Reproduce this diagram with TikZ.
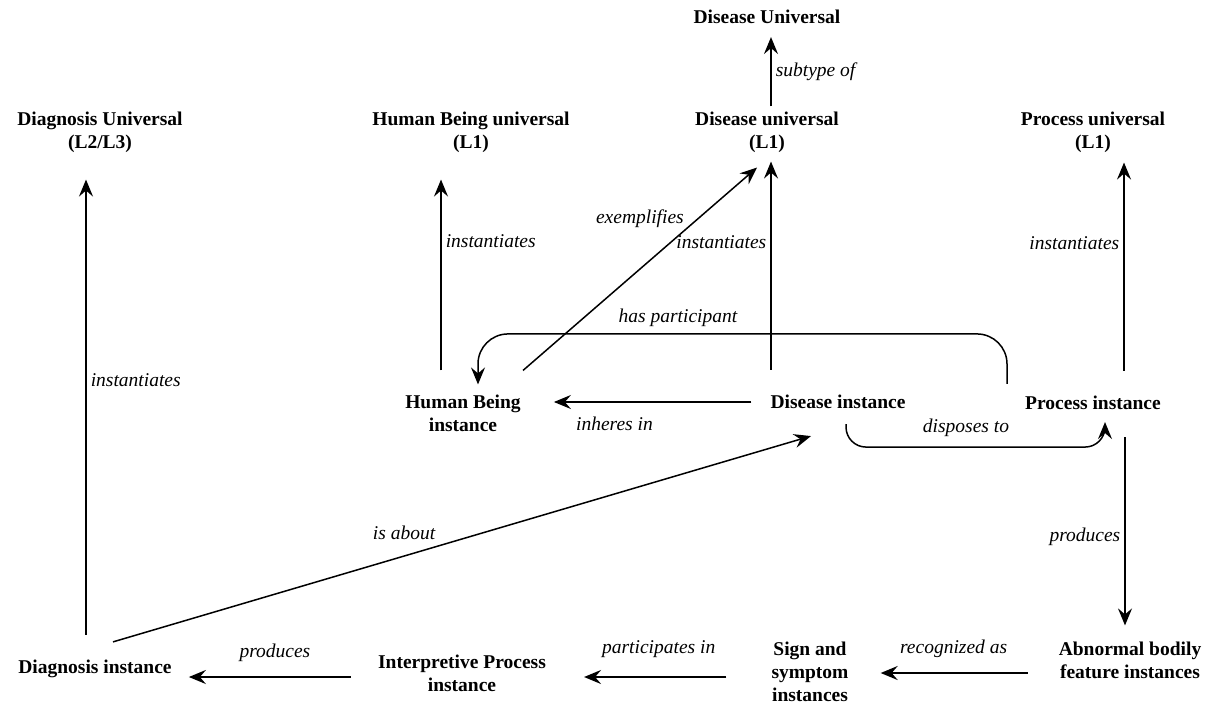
\documentclass[tikz,border=0pt]{standalone}
\usepackage{fontspec}
\setmainfont{Liberation Serif}
\usetikzlibrary{arrows.meta}

\begin{document}
\begin{tikzpicture}[x=1pt,y=-1pt,
    thing/.style={align=center,inner sep=5pt,font=\fontsize{19.5}{23}\selectfont\bfseries},
    rel/.style={font=\fontsize{19.5}{23}\selectfont\itshape,inner sep=4pt},
    arr/.style={line width=1.5pt,-{Stealth[length=17pt,width=14pt,inset=6pt]}},
    harr/.style={arr,line width=2.2pt}]
    \useasboundingbox (0,0) rectangle (1207,704);
    \node[thing] (DisU) at (767,17) {Disease Universal};
    \node[thing] (DiagU) at (100,132) {Diagnosis Universal\\(L2/L3)};
    \node[thing] (HBU) at (471,132) {Human Being universal\\(L1)};
    \node[thing] (DU) at (767,132) {Disease universal\\(L1)};
    \node[thing] (PU) at (1093,132) {Process universal\\(L1)};
    \node[thing] (HBI) at (463,413) {Human Being\\instance};
    \node[thing] (DI) at (838,402) {Disease instance};
    \node[thing] (PI) at (1093,403) {Process instance};
    \node[thing] (DgI) at (95,669) {Diagnosis instance};
    \node[thing] (IPI) at (462,673) {Interpretive Process\\instance};
    \node[thing] (SSI) at (810,672) {Sign and\\symptom\\instances};
    \node[thing] (ABF) at (1130,660) {Abnormal bodily\\feature instances};
    \draw[arr] ([xshift=4pt]DU.north) -- ([xshift=4pt,yshift=-8pt]DisU.south) node[midway,right,rel] {subtype of};
    \draw[arr] ([xshift=-22pt,yshift=19pt]HBI.north) -- ([xshift=-30pt,yshift=-22pt]HBU.south) node[pos=.675,right,rel] {instantiates};
    \draw[arr] ([xshift=-67pt,yshift=20pt]DI.north) -- ([xshift=4pt,yshift=-4pt]DU.south) node[pos=.615,left,rel] {instantiates};
    \draw[arr] ([xshift=60pt,yshift=19pt]HBI.north) -- ([xshift=-10pt,yshift=-10pt]DU.south) node[pos=.75,left,rel,xshift=-10pt] {exemplifies};
    \draw[arr] ([xshift=31pt,yshift=20pt]PI.north) -- ([xshift=31pt,yshift=-5pt]PU.south) node[pos=.615,left,rel] {instantiates};
    \draw[arr] ([xshift=-9pt,yshift=20pt]DgI.north) -- ([xshift=-14pt,yshift=-22pt]DiagU.south) node[pos=.56,right,rel] {instantiates};
    \draw[arr,rounded corners=30pt] ([xshift=-86pt,yshift=7pt]PI.north) -- ++(0,-50) -| ([xshift=15pt,yshift=5pt]HBI.north);
    \node[rel] (hp) at (678,318) {has participant};
    \draw[arr,shorten <=14pt,shorten >=28pt] (DI.west) -- (DI.west -| HBI.east) node[pos=.63,below,rel,yshift=-10pt] {inheres in};
    \draw[arr,rounded corners=20pt] ([xshift=8pt,yshift=-10pt]DI.south) -- ++(0,23) -| ([xshift=12pt,yshift=-7pt]PI.south);
    \node[rel] (dt) at (966,428) {disposes to};
    \draw[arr] ([xshift=32pt,yshift=-22pt]PI.south) -- ([xshift=-5pt,yshift=11pt]ABF.north) node[pos=.53,left,rel] {produces};
    \draw[arr] ([xshift=18pt,yshift=13pt]DgI.north) -- ([xshift=-27pt,yshift=-22pt]DI.south) node[pos=.417,above,rel,yshift=12pt] {is about};
    \draw[harr,shorten <=22pt,shorten >=12pt] ([yshift=-4pt]IPI.west) -- ([yshift=-4pt]IPI.west -| DgI.east) node[midway,above,rel,yshift=10pt] {produces};
    \draw[harr,shorten <=40pt,shorten >=33pt] ([yshift=-5pt]SSI.west) -- ([yshift=-5pt]SSI.west -| IPI.east) node[midway,above,rel,yshift=14pt] {participates in};
    \draw[harr,shorten <=26pt,shorten >=27pt] ([yshift=-1pt]SSI.east -| ABF.west) -- ([yshift=-1pt]SSI.east) node[midway,above,rel,yshift=10pt] {recognized as};
  \end{tikzpicture}
\end{document}
